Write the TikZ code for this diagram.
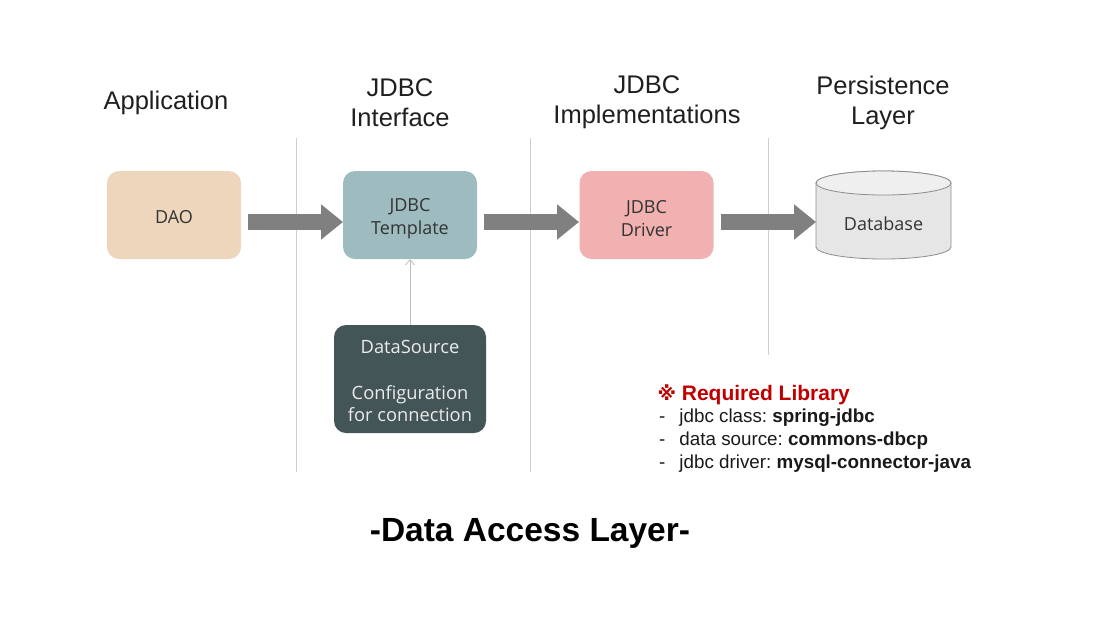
\documentclass[tikz,border=0pt]{standalone}
\usepackage{fontspec}
\setmainfont{Liberation Sans}
\newfontfamily\boxfont{Open Sans}
\newfontfamily\symfont{DejaVu Sans}
\usetikzlibrary{arrows.meta}
\frenchspacing
\definecolor{daoC}{HTML}{EDD6BC}
\definecolor{tmplC}{HTML}{9EBCBF}
\definecolor{drvC}{HTML}{F0B1B0}
\definecolor{dsC}{HTML}{445558}
\definecolor{dbC}{HTML}{E6E6E6}
\definecolor{dbTop}{HTML}{EFEFEF}
\definecolor{sepC}{HTML}{CFCFCF}
\definecolor{arrC}{HTML}{808080}
\definecolor{reqC}{HTML}{C00000}
\begin{document}
\begin{tikzpicture}[x=1pt,y=-1pt,
  box/.style={rounded corners=12pt,minimum width=134pt,minimum height=88pt,inner sep=0pt,align=center,font=\boxfont\fontsize{18}{23}\selectfont,text=black!80},
  head/.style={align=center,font=\fontsize{25.5}{30}\selectfont,text=black!88},
  sep/.style={draw=sepC,line width=0.9pt},
  bigarrow/.style={arrC,line width=16pt,-{Triangle[length=22pt,width=34pt]},shorten >=-1pt}]
\useasboundingbox (0,0) rectangle (1115,638);
% separators
\coordinate (s1t) at (296,138); \coordinate (s1b) at (296,472);
\coordinate (s2t) at (530,138); \coordinate (s2b) at (530,472);
\coordinate (s3t) at (768,138); \coordinate (s3b) at (768,355);
\draw[sep] (s1t) -- (s1b);
\draw[sep] (s2t) -- (s2b);
\draw[sep] (s3t) -- (s3b);
% headers
\node[head] (happ) at (166,102.5) {Application};
\node[head] (hint) at (400,102.5) {JDBC\\Interface};
\node[head] (himp) at (647,102.5) {JDBC\\Implementations};
\node[head] (hper) at (883,102.5) {Persistence\\Layer};
% boxes
\node[box,fill=daoC] (dao) at (174,215) {\rule{0pt}{17pt}DAO};
\node[box,fill=tmplC] (tmpl) at (410,215) {\rule{0pt}{21pt}JDBC\\Template};
\node[box,fill=drvC] (drv) at (646.5,215) {\rule{0pt}{21pt}JDBC\\Driver};
% database cylinder
\draw[draw=black!45,line width=0.8pt,fill=dbC]
  (816,183) -- (816,247) arc[start angle=180,end angle=360,x radius=67.5pt,y radius=12pt]
  -- (951,183) arc[start angle=0,end angle=180,x radius=67.5pt,y radius=12pt] -- cycle;
\draw[draw=black!45,line width=0.8pt,fill=dbTop] (883.5,183) ellipse[x radius=67.5pt,y radius=12pt];
\node[font=\boxfont\fontsize{18}{23}\selectfont,text=black!80,minimum width=135pt,minimum height=64pt] (db) at (883.5,223.5) {Database};
\node[box,fill=dsC,text=white!92!black,minimum width=152pt,minimum height=108pt,font=\boxfont\fontsize{18.3}{22}\selectfont] (ds) at (410,379)
  {\rule{0pt}{17.5pt}DataSource\\[24pt]Configuration\\for connection};
% arrows
\coordinate (a1s) at (248,222); \coordinate (a1e) at (342,222);
\coordinate (a2s) at (484,222); \coordinate (a2e) at (578,222);
\coordinate (a3s) at (721,222); \coordinate (a3e) at (815,222);
\draw[bigarrow] (a1s) -- (a1e);
\draw[bigarrow] (a2s) -- (a2e);
\draw[bigarrow] (a3s) -- (a3e);
\draw[draw=black!25,line width=0.8pt,-{Straight Barb[length=5pt,width=9pt]}] (ds.north) -- (tmpl.south);
% required library
\node[anchor=west,font=\bfseries\fontsize{21}{24}\selectfont,text=reqC] (req) at (654,395)
  {{\symfont\fontsize{19}{24}\selectfont ※} Required Library};
\node[anchor=west,font=\fontsize{18.8}{23}\selectfont,align=left,text=black!90,inner sep=0pt] (l1) at (659,440.5)
  {-\hspace{14pt}jdbc class: \textbf{spring-jdbc}\\
   -\hspace{14pt}data source: \textbf{commons-dbcp}\\
   -\hspace{14pt}jdbc driver: \textbf{mysql-connector-java}};
% title
\node[font=\bfseries\fontsize{33.5}{40}\selectfont] (title) at (530,533) {-Data Access Layer-};
\end{tikzpicture}
\end{document}
